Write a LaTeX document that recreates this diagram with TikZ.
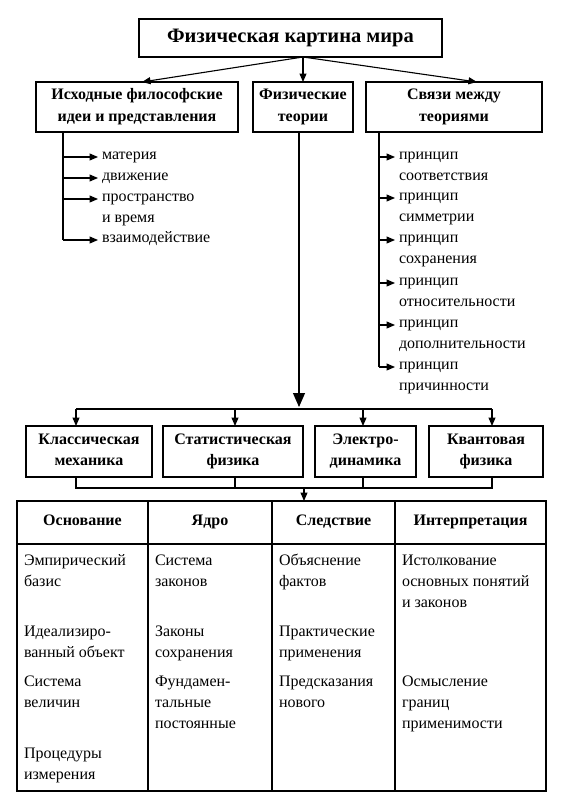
\documentclass[tikz,border=0pt]{standalone}
\usepackage{fontspec}
\setmainfont{Liberation Serif}
\usetikzlibrary{arrows.meta}
\newcommand\bxs{\vrule width 0pt height 11.5pt depth 4.5pt}
\begin{document}
\begin{tikzpicture}[x=1pt,y=-1pt,
  every node/.style={inner sep=0pt, outer sep=0pt},
  box/.style={draw, line width=1.3pt, font=\fontsize{16}{21}\selectfont\bfseries, align=center},
  ln/.style={line width=1.1pt},
  arr/.style={ln, -{Triangle[length=8.5pt,width=7pt]}},
  bigarr/.style={ln, -{Triangle[length=14pt,width=12pt]}},
  txt/.style={font=\fontsize{16}{21}\selectfont, anchor=mid west},
  hd/.style={font=\fontsize{16}{21}\selectfont\bfseries, anchor=mid},
  grid/.style={line width=1.3pt},
]
\useasboundingbox (0,0) rectangle (566,808);

% top level
\node[box, font=\fontsize{20.5}{25}\selectfont\bfseries, minimum width=303, minimum height=38] (top) at (290.5,38) {Физическая картина мира};
\node[box, minimum width=202, minimum height=50] (b1) at (137,107) {\bxs Исходные философские\\\bxs идеи и представления};
\node[box, minimum width=100, minimum height=50] (b2) at (303,107) {\bxs Физические\\\bxs теории};
\node[box, minimum width=176, minimum height=50] (b3) at (454,107) {\bxs Связи между\\\bxs теориями};

\draw[arr] (top.south -| b2.north) -- ([xshift=5pt]b1.north);
\draw[arr] (top.south -| b2.north) -- (b2.north);
\draw[arr] (top.south -| b2.north) -- ([xshift=23pt]b3.north);

% left list
\node[txt] (i1) at (102,157) {материя};
\node[txt] (i2) at (102,178) {движение};
\node[txt] (i3) at (102,199) {пространство};
\node[txt] (i3b) at (102,220) {и время};
\node[txt] (i4) at (102,240) {взаимодействие};
\draw[ln] ([xshift=27pt]b1.south west) coordinate (lv) -- (lv |- i4.mid west);
\foreach \n in {i1,i2,i3,i4}
  \draw[arr, shorten >=4pt] (lv |- \n.mid west) -- (\n.mid west);

% right list
\node[txt] (r1) at (399,157) {принцип};
\node[txt] (r1b) at (399,178) {соответствия};
\node[txt] (r2) at (399,198) {принцип};
\node[txt] (r2b) at (399,219) {симметрии};
\node[txt] (r3) at (399,240) {принцип};
\node[txt] (r3b) at (399,261) {сохранения};
\node[txt] (r4) at (399,283) {принцип};
\node[txt] (r4b) at (399,304) {относительности};
\node[txt] (r5) at (399,325) {принцип};
\node[txt] (r5b) at (399,346) {дополнительности};
\node[txt] (r6) at (399,367) {принцип};
\node[txt] (r6b) at (399,388) {причинности};
\draw[ln] ([xshift=13pt]b3.south west) coordinate (rv) -- (rv |- r6.mid west);
\foreach \n in {r1,r2,r3,r4,r5,r6}
  \draw[arr, shorten >=4pt] (rv |- \n.mid west) -- (\n.mid west);

% theories
\node[box, minimum width=126, minimum height=51] (tA) at (89,451.5) {\bxs Классическая\\\bxs механика};
\node[box, minimum width=140, minimum height=51] (tB) at (233,451.5) {\bxs Статистическая\\\bxs физика};
\node[box, minimum width=101, minimum height=51] (tC) at (365.5,451.5) {\bxs Электро-\\\bxs динамика};
\node[box, minimum width=114, minimum height=51] (tD) at (486,451.5) {\bxs Квантовая\\\bxs физика};

\coordinate (k1) at (76,409);
\coordinate (k2) at (235,409);
\coordinate (k3) at (363,409);
\coordinate (k4) at (492,409);
\draw[bigarr, shorten >=2pt] ([xshift=-4pt]b2.south) -- ([xshift=-4pt]b2.south |- k1);
\draw[ln] (k1) -- (k4);
\draw[arr] (k1) -- (k1 |- tA.north);
\draw[arr] (k2) -- (k2 |- tB.north);
\draw[arr] (k3) -- (k3 |- tC.north);
\draw[arr] (k4) -- (k4 |- tD.north);

% table
\node[draw, grid, minimum width=529, minimum height=290, anchor=north west] (tab) at (17,501) {};
\coordinate (m1) at (76,488);
\coordinate (m4) at (492,488);
\coordinate (mc) at (304,488);
\draw[ln] (k1 |- tA.south) -- (m1) -- (m4) -- (k4 |- tD.south);
\draw[ln] (k2 |- tB.south) -- (k2 |- m1);
\draw[ln] (k3 |- tC.south) -- (k3 |- m1);
\draw[arr] (mc) -- (mc |- tab.north);

\coordinate (hl) at (17,544);
\draw[grid] (hl) -- (hl -| tab.east);
\foreach \cx in {148,272,395}
  \draw[grid] (\cx,501) -- (\cx,791);

\node[hd] (h1) at (82.5,523) {Основание};
\node[hd] (h2) at (210,523) {Ядро};
\node[hd] (h3) at (333.5,523) {Следствие};
\node[hd] (h4) at (470.5,523) {Интерпретация};

% column 1
\node[txt] (c11) at (24,563) {Эмпирический};
\node[txt] (c12) at (24,584) {базис};
\node[txt] (c13) at (24,634) {Идеализиро-};
\node[txt] (c14) at (24,655) {ванный объект};
\node[txt] (c15) at (24,684) {Система};
\node[txt] (c16) at (24,705) {величин};
\node[txt] (c17) at (24,756) {Процедуры};
\node[txt] (c18) at (24,777) {измерения};
% column 2
\node[txt] (c21) at (155,563) {Система};
\node[txt] (c22) at (155,584) {законов};
\node[txt] (c23) at (155,634) {Законы};
\node[txt] (c24) at (155,655) {сохранения};
\node[txt] (c25) at (155,684) {Фундамен-};
\node[txt] (c26) at (155,705) {тальные};
\node[txt] (c27) at (155,726) {постоянные};
% column 3
\node[txt] (c31) at (279,563) {Объяснение};
\node[txt] (c32) at (279,584) {фактов};
\node[txt] (c33) at (279,634) {Практические};
\node[txt] (c34) at (279,655) {применения};
\node[txt] (c35) at (279,684) {Предсказания};
\node[txt] (c36) at (279,705) {нового};
% column 4
\node[txt] (c41) at (402,563) {Истолкование};
\node[txt] (c42) at (402,584) {основных понятий};
\node[txt] (c43) at (402,605) {и законов};
\node[txt] (c44) at (402,684) {Осмысление};
\node[txt] (c45) at (402,705) {границ};
\node[txt] (c46) at (402,726) {применимости};
\end{tikzpicture}
\end{document}
